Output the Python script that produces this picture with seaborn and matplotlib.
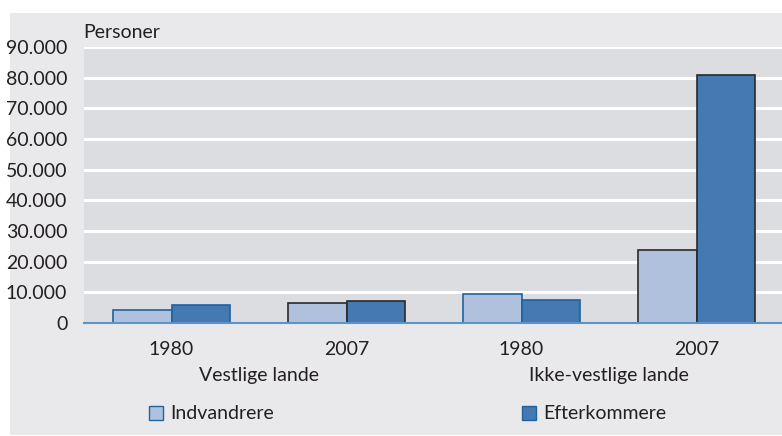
import matplotlib
matplotlib.use("Agg")
import matplotlib.pyplot as plt
import seaborn as sns
import pandas as pd
from matplotlib.patches import Rectangle
from matplotlib.transforms import blended_transform_factory

# ---- data ----
groups = ["Vestlige lande", "Vestlige lande", "Ikke-vestlige lande", "Ikke-vestlige lande"]
years = ["1980", "2007", "1980", "2007"]
indvandrere = [4200, 6500, 9400, 23800]
efterkommere = [5800, 7300, 7500, 81000]
series_names = ["Indvandrere", "Efterkommere"]
yticks = [0, 10000, 20000, 30000, 40000, 50000, 60000, 70000, 80000, 90000]
ytick_labels = ["0", "10.000", "20.000", "30.000", "40.000", "50.000",
                "60.000", "70.000", "80.000", "90.000"]

keys = [f"{g}|{y}" for g, y in zip(groups, years)]
df = pd.DataFrame({
    "key": keys * 2,
    "series": [series_names[0]] * 4 + [series_names[1]] * 4,
    "value": indvandrere + efterkommere,
})

# ---- style ----
sns.set_style("white")
plt.rcParams["font.family"] = ["Lato", "DejaVu Sans"]
colors = ["#b0c1de", "#4479b1"]
edge_by_year = {"1980": "#1f62a0", "2007": "#2a2a2a"}
text_color = "#231f20"
fs = 14

fig = plt.figure(figsize=(7.82, 4.36), dpi=100, facecolor="white")
fig.patches.append(Rectangle((10 / 782, 1 / 436), 1 - 10 / 782, (436 - 13 - 1) / 436,
                             transform=fig.transFigure, facecolor="#e9e9eb",
                             edgecolor="none", zorder=-10))
ax = fig.add_axes([84 / 782, (436 - 323) / 436, (784 - 84) / 782, (323 - 47) / 436])
ax.set_facecolor("#dcdde0")

sns.barplot(data=df, x="key", y="value", hue="series", order=keys,
            hue_order=series_names, palette=colors, width=0.67,
            saturation=1, ax=ax, legend=False, zorder=3)

# bar edges
for i, cont in enumerate(ax.containers):
    for j, bar in enumerate(cont):
        bar.set_edgecolor(edge_by_year[years[j]])
        bar.set_linewidth(1.2)

ax.set_xlim(-0.5, 3.5)
ax.set_ylim(0, 90000)
ax.set_yticks(yticks)
ax.set_yticklabels(ytick_labels, fontsize=fs, color=text_color)
ax.yaxis.grid(True, color="white", linewidth=2.2, zorder=0)
ax.set_axisbelow(True)
for s in ["top", "right", "left"]:
    ax.spines[s].set_visible(False)
ax.spines["bottom"].set_color("#5b94c8")
ax.spines["bottom"].set_linewidth(1.5)
ax.spines["bottom"].set_zorder(5)
ax.tick_params(axis="both", length=0)
ax.tick_params(axis="y", pad=12)
ax.set_xticks(range(len(keys)))
ax.set_xticklabels(years, fontsize=fs, color=text_color)
ax.tick_params(axis="x", pad=13)
ax.set_xlabel("")
ax.set_ylabel("")

# group labels
tr = blended_transform_factory(ax.transData, fig.transFigure)
seen = []
for g in groups:
    if g not in seen:
        seen.append(g)
for g in seen:
    idx = [k for k, gg in enumerate(groups) if gg == g]
    xc = sum(idx) / len(idx)
    ax.text(xc, (436 - 375) / 436, g, transform=tr, ha="center", va="center",
            fontsize=fs, color=text_color)

fig.text(83 / 782, (436 - 33) / 436, "Personer", ha="left", va="center",
         fontsize=fs, color=text_color)

# legend
leg_x = [149, 522]
for name, c, lx in zip(series_names, colors, leg_x):
    fig.patches.append(Rectangle((lx / 782, (436 - 420) / 436), 14 / 782, 14 / 436,
                                 transform=fig.transFigure, facecolor=c,
                                 edgecolor="#1f62a0", linewidth=1.0))
    fig.text((lx + 21) / 782, (436 - 413) / 436, name, ha="left", va="center",
             fontsize=fs, color=text_color)

fig.savefig("out.png", dpi=100, facecolor="white")
